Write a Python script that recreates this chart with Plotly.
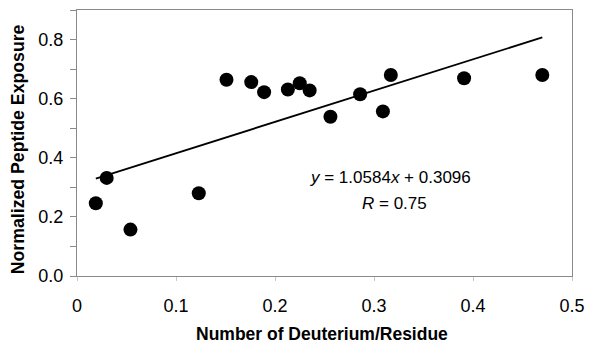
import plotly.graph_objects as go

# Data
deuterium_per_residue = [0.019, 0.030, 0.054, 0.123, 0.151, 0.176, 0.189, 0.213,
                         0.225, 0.235, 0.256, 0.286, 0.309, 0.317, 0.391, 0.470]
peptide_exposure = [0.246, 0.332, 0.157, 0.280, 0.664, 0.656, 0.622, 0.631,
                    0.652, 0.628, 0.539, 0.615, 0.557, 0.680, 0.669, 0.680]

fit_slope = 1.0584
fit_intercept = 0.3096
fit_x = [0.019, 0.470]
fit_y = [fit_slope * v + fit_intercept for v in fit_x]

equation_text = "<i>y</i> = 1.0584<i>x</i> + 0.3096"
r_text = "<i>R</i> = 0.75"

x_title = "Number of Deuterium/Residue"
y_title = "Normalized Peptide Exposure"

FONT = "Arial, 'Liberation Sans', sans-serif"
AXIS_COLOR = "#8a8a8a"

fig = go.Figure()
fig.add_trace(go.Scatter(x=fit_x, y=fit_y, mode="lines",
                         line=dict(color="black", width=1.8),
                         hoverinfo="skip", showlegend=False))
fig.add_trace(go.Scatter(x=deuterium_per_residue, y=peptide_exposure,
                         mode="markers",
                         marker=dict(color="black", size=14),
                         showlegend=False))

fig.add_annotation(x=0.317, y=0.333, xref="x", yref="y", text=equation_text,
                   showarrow=False, xanchor="center", yanchor="middle",
                   font=dict(family=FONT, size=17, color="black"))
fig.add_annotation(x=0.321, y=0.246, xref="x", yref="y", text=r_text,
                   showarrow=False, xanchor="center", yanchor="middle",
                   font=dict(family=FONT, size=17, color="black"))

# Axis titles as annotations for exact placement
fig.add_annotation(x=0.247, xref="x", y=0, yref="paper", yshift=-69,
                   text="<b>" + x_title + "</b>", showarrow=False,
                   xanchor="center", yanchor="bottom", borderpad=0,
                   font=dict(family=FONT, size=17.5, color="black"))
fig.add_annotation(x=0, xref="paper", xshift=-59, y=0.429, yref="y",
                   text="<b>" + y_title + "</b>", showarrow=False,
                   textangle=-90, xanchor="center", yanchor="middle",
                   font=dict(family=FONT, size=17.7, color="black"))

fig.update_layout(
    width=594, height=343,
    margin=dict(l=77, r=18, t=9, b=67),
    plot_bgcolor="white", paper_bgcolor="white",
    font=dict(family=FONT, size=18, color="black"),
    xaxis=dict(range=[0, 0.5], dtick=0.1, tick0=0,
               showgrid=False, zeroline=False,
               showline=True, linecolor=AXIS_COLOR, linewidth=1, mirror=True,
               ticks="outside", ticklen=4, tickcolor="#c8c8c8", tickwidth=1,
               ticklabelstandoff=9,
               tickfont=dict(family=FONT, size=18, color="black")),
    yaxis=dict(range=[0, 0.9], dtick=0.2, tick0=0, tickformat=".1f",
               showgrid=False, zeroline=False,
               showline=True, linecolor=AXIS_COLOR, linewidth=1, mirror=True,
               ticks="outside", ticklen=6, tickcolor=AXIS_COLOR, tickwidth=1,
               ticklabelstandoff=3,
               minor=dict(dtick=0.1, ticks="outside", ticklen=6,
                          tickcolor=AXIS_COLOR, showgrid=False),
               tickfont=dict(family=FONT, size=18, color="black")),
)

fig.write_html("out.html")
